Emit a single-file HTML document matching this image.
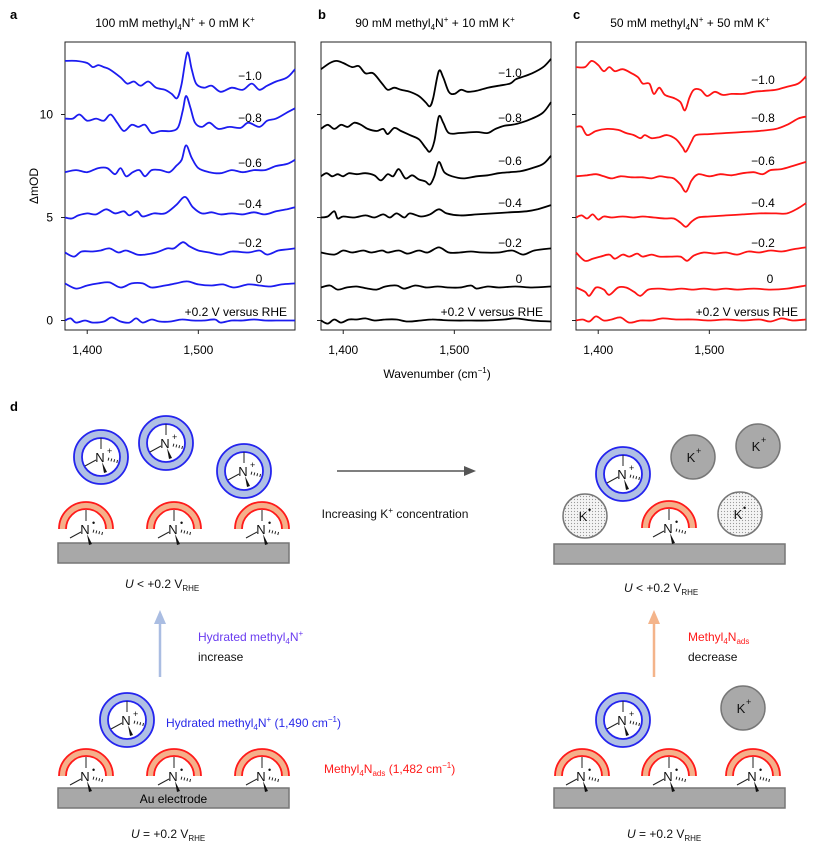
<!DOCTYPE html>
<html><head><meta charset="utf-8"><style>
body{margin:0;background:#fff}
svg{display:block;font-family:"Liberation Sans",Arial,sans-serif}
</style></head><body>
<svg id="fig" width="814" height="849" viewBox="0 0 814 849" xmlns="http://www.w3.org/2000/svg">
<g id="charts"></g>
<g id="diagram"></g>
</svg>
<script>
const NS="http://www.w3.org/2000/svg";
const potentials=["-1.0","-0.8","-0.6","-0.4","-0.2","0","+0.2"];
const xTicks=[1400,1500];
const yTicks=[0,5,10];
const panelA=[
[[1380,12.6],[1390,12.6],[1400,12.5],[1405,12.3],[1410,12.4],[1415,12.3],[1420,12.2],[1430,11.8],[1436,11.5],[1442,11.6],[1448,11.4],[1455,11.6],[1462,11.3],[1470,11.2],[1476,11.0],[1481,10.8],[1485,11.5],[1490,13.0],[1494,12.2],[1498,11.5],[1505,11.3],[1512,11.4],[1520,11.1],[1530,11.3],[1540,11.2],[1548,11.5],[1555,11.2],[1562,11.4],[1570,11.6],[1580,11.8],[1587,12.2]],
[[1380,9.8],[1387,9.8],[1393,10.0],[1400,9.7],[1408,9.8],[1415,9.7],[1421,10.0],[1427,9.6],[1433,9.2],[1440,9.5],[1446,9.4],[1452,9.5],[1458,9.1],[1466,9.2],[1476,9.2],[1482,9.4],[1486,10.2],[1489,10.9],[1493,10.3],[1497,9.6],[1503,9.4],[1510,9.6],[1518,9.3],[1528,9.4],[1538,9.35],[1545,9.6],[1555,9.4],[1562,9.7],[1570,9.8],[1580,10.1],[1587,10.3]],
[[1380,7.2],[1390,7.3],[1400,7.2],[1410,7.4],[1418,7.4],[1425,7.1],[1430,7.4],[1435,7.0],[1441,7.2],[1447,7.3],[1452,7.0],[1458,7.3],[1466,7.3],[1474,7.2],[1480,7.5],[1485,7.8],[1489,8.5],[1494,7.9],[1500,7.4],[1510,7.2],[1520,7.15],[1530,7.3],[1540,7.2],[1550,7.3],[1560,7.3],[1570,7.5],[1580,7.6],[1587,7.8]],
[[1380,5.0],[1386,4.95],[1392,5.1],[1400,5.2],[1408,5.15],[1417,5.4],[1425,5.2],[1433,5.3],[1438,5.1],[1445,5.3],[1450,5.05],[1460,5.2],[1470,5.2],[1480,5.6],[1488,6.0],[1495,5.5],[1503,5.2],[1512,5.25],[1520,5.15],[1530,5.2],[1540,5.15],[1550,5.25],[1560,5.15],[1570,5.3],[1580,5.4],[1587,5.5]],
[[1380,3.3],[1388,3.1],[1395,3.35],[1405,3.35],[1412,3.4],[1420,3.5],[1428,3.3],[1435,3.4],[1445,3.2],[1452,3.2],[1462,3.3],[1472,3.5],[1478,3.5],[1486,3.8],[1492,3.6],[1500,3.4],[1510,3.3],[1520,3.2],[1530,3.35],[1545,3.3],[1555,3.4],[1562,3.2],[1572,3.4],[1580,3.45],[1587,3.5]],
[[1380,1.8],[1390,1.55],[1400,1.7],[1410,1.8],[1420,1.85],[1430,1.6],[1440,1.8],[1450,1.8],[1458,1.6],[1470,1.7],[1480,1.8],[1490,1.9],[1500,1.75],[1512,1.7],[1522,1.75],[1532,1.6],[1545,1.75],[1555,1.7],[1565,1.65],[1575,1.75],[1587,1.8]],
[[1380,0],[1385,0.1],[1390,-0.1],[1398,0],[1405,-0.1],[1415,-0.05],[1422,0.15],[1430,-0.05],[1438,-0.1],[1444,0.1],[1450,-0.1],[1458,0.05],[1465,-0.05],[1475,-0.05],[1485,0.05],[1495,0],[1505,0],[1515,0.05],[1520,-0.1],[1530,0],[1540,0],[1550,0.05],[1560,0],[1570,0],[1587,0]]
];
const panelB=[
[[1380,12.2],[1388,12.5],[1394,12.6],[1400,12.5],[1408,12.3],[1414,12.35],[1420,12.0],[1427,12.0],[1435,11.5],[1440,11.2],[1446,11.3],[1452,11.2],[1460,11.1],[1468,10.9],[1474,10.6],[1478,10.4],[1481,10.8],[1486,12.1],[1490,11.8],[1495,11.1],[1500,11.0],[1506,11.2],[1512,11.1],[1520,11.15],[1530,11.3],[1540,11.4],[1550,11.5],[1555,11.7],[1560,11.8],[1570,12.0],[1580,12.3],[1587,12.7]],
[[1380,9.3],[1386,9.5],[1392,9.3],[1398,9.5],[1404,9.4],[1410,9.6],[1416,9.5],[1422,9.3],[1430,9.2],[1436,9.3],[1440,9.05],[1446,9.35],[1452,9.2],[1460,9.0],[1468,8.8],[1474,8.4],[1478,8.2],[1482,8.7],[1486,9.9],[1490,9.6],[1495,9.1],[1505,9.1],[1520,9.15],[1530,9.1],[1537,9.3],[1545,9.45],[1552,9.5],[1560,9.6],[1570,9.8],[1580,10.1],[1587,10.6]],
[[1380,7.0],[1385,7.15],[1390,7.0],[1395,7.1],[1400,7.0],[1405,7.15],[1412,7.1],[1420,7.15],[1428,7.05],[1434,6.8],[1440,7.1],[1445,7.0],[1450,7.35],[1456,6.9],[1462,7.05],[1468,6.85],[1474,6.75],[1478,6.6],[1482,7.0],[1486,7.7],[1491,7.2],[1498,7.0],[1508,6.9],[1520,7.0],[1530,7.05],[1540,7.15],[1550,7.2],[1560,7.25],[1570,7.4],[1580,7.6],[1587,8.0]],
[[1380,5.0],[1386,5.05],[1392,5.3],[1395,4.95],[1400,5.05],[1410,5.0],[1420,5.1],[1428,5.0],[1436,5.15],[1442,5.0],[1448,5.2],[1455,5.0],[1460,5.2],[1470,5.05],[1478,5.15],[1486,5.4],[1493,5.2],[1505,5.1],[1520,5.15],[1535,5.2],[1550,5.25],[1565,5.3],[1575,5.4],[1587,5.6]],
[[1380,3.3],[1392,3.2],[1400,3.4],[1408,3.3],[1418,3.4],[1425,3.3],[1435,3.4],[1440,3.3],[1450,3.4],[1458,3.25],[1468,3.4],[1476,3.3],[1486,3.55],[1495,3.3],[1505,3.3],[1515,3.35],[1525,3.3],[1540,3.3],[1552,3.4],[1562,3.2],[1572,3.4],[1587,3.5]],
[[1380,1.6],[1388,1.7],[1395,1.5],[1403,1.6],[1412,1.65],[1422,1.55],[1430,1.5],[1438,1.65],[1448,1.7],[1455,1.55],[1465,1.7],[1475,1.6],[1485,1.65],[1495,1.6],[1505,1.6],[1515,1.7],[1520,1.55],[1530,1.65],[1540,1.6],[1555,1.65],[1570,1.6],[1587,1.65]],
[[1380,0],[1386,-0.15],[1392,0.05],[1398,-0.1],[1405,0.05],[1412,0.05],[1420,0.1],[1428,0],[1438,0.05],[1448,0.05],[1458,-0.05],[1470,0],[1480,0.05],[1490,0.02],[1500,0],[1515,0],[1530,0],[1545,0.05],[1555,0.1],[1570,0],[1587,-0.05]]
];
const panelC=[
[[1380,12.3],[1388,12.3],[1394,12.6],[1400,12.4],[1405,12.1],[1410,12.3],[1415,12.1],[1422,12.2],[1430,12.0],[1436,11.8],[1440,11.5],[1446,11.5],[1450,11.0],[1455,11.3],[1460,10.95],[1468,10.8],[1474,10.6],[1478,10.2],[1482,10.8],[1486,11.2],[1492,11.2],[1498,10.9],[1505,11.1],[1512,10.95],[1520,11.0],[1530,11.0],[1540,11.1],[1550,11.15],[1560,11.2],[1570,11.35],[1580,11.5],[1587,11.85]],
[[1380,9.4],[1385,9.4],[1390,9.0],[1398,9.2],[1408,9.3],[1418,9.25],[1425,9.1],[1432,9.0],[1438,8.85],[1442,9.0],[1448,8.85],[1455,8.9],[1462,9.0],[1470,8.8],[1476,8.4],[1479,8.2],[1484,8.7],[1488,9.0],[1500,9.05],[1515,9.1],[1530,9.15],[1545,9.2],[1560,9.3],[1570,9.5],[1580,9.8],[1587,9.9]],
[[1380,7.0],[1390,7.05],[1398,7.1],[1405,7.0],[1412,6.9],[1420,7.0],[1430,6.95],[1440,6.95],[1448,6.9],[1455,7.0],[1462,6.95],[1468,6.9],[1474,6.6],[1479,6.25],[1484,6.8],[1490,7.1],[1500,7.0],[1510,7.1],[1520,7.05],[1530,7.15],[1540,7.2],[1548,7.1],[1555,7.3],[1565,7.35],[1575,7.5],[1587,7.7]],
[[1380,5.0],[1385,5.1],[1390,4.95],[1395,5.15],[1400,4.9],[1405,5.05],[1412,5.0],[1422,5.05],[1432,5.0],[1440,5.05],[1450,5.0],[1460,4.95],[1468,4.95],[1474,4.75],[1479,4.55],[1484,4.8],[1490,5.0],[1500,5.05],[1515,5.1],[1530,5.15],[1545,5.2],[1560,5.2],[1570,5.2],[1580,5.45],[1587,5.7]],
[[1380,3.3],[1388,2.9],[1395,3.0],[1402,3.1],[1410,3.2],[1415,3.0],[1422,3.2],[1428,3.1],[1435,3.25],[1440,3.1],[1448,3.2],[1455,3.1],[1465,3.1],[1474,3.1],[1480,2.9],[1486,3.15],[1495,3.3],[1505,3.25],[1515,3.3],[1525,3.2],[1535,3.35],[1545,3.3],[1555,3.4],[1565,3.35],[1575,3.45],[1587,3.55]],
[[1380,1.6],[1388,1.4],[1392,1.2],[1398,1.6],[1405,1.5],[1410,1.25],[1418,1.6],[1425,1.6],[1432,1.4],[1438,1.2],[1445,1.5],[1455,1.55],[1465,1.5],[1475,1.55],[1485,1.5],[1495,1.55],[1505,1.5],[1515,1.55],[1525,1.5],[1540,1.55],[1555,1.5],[1570,1.55],[1587,1.7]],
[[1380,0],[1386,0.05],[1392,-0.05],[1398,0.2],[1405,0],[1412,0.05],[1420,0.15],[1428,-0.1],[1438,0],[1448,0],[1458,0.1],[1470,0.05],[1485,0.05],[1500,0],[1515,0.05],[1530,0],[1545,0.05],[1555,-0.05],[1565,0.1],[1575,0],[1587,0.05]]
];

function el(tag,attrs,parent,text){const e=document.createElementNS(NS,tag);for(const k in attrs)e.setAttribute(k,attrs[k]);if(text!==undefined)e.textContent=text;parent.appendChild(e);return e;}
function smooth(pts){let d="M"+pts[0][0].toFixed(1)+","+pts[0][1].toFixed(1);
 for(let i=0;i<pts.length-1;i++){const p0=pts[Math.max(i-1,0)],p1=pts[i],p2=pts[i+1],p3=pts[Math.min(i+2,pts.length-1)];
  const c1x=p1[0]+(p2[0]-p0[0])/6,c1y=p1[1]+(p2[1]-p0[1])/6,c2x=p2[0]-(p3[0]-p1[0])/6,c2y=p2[1]-(p3[1]-p1[1])/6;
  d+=` C${c1x.toFixed(1)},${c1y.toFixed(1)} ${c2x.toFixed(1)},${c2y.toFixed(1)} ${p2[0].toFixed(1)},${p2[1].toFixed(1)}`;}
 return d;}

const charts=document.getElementById('charts');
const TOP=42,BOT=330,W=230;
const yS=v=>320.5-v*20.6;
const panels=[
 {id:"a",left:65,color:"#1c1cf0",data:panelA,title:"100 mM methyl",tail:" + 0 mM K",lx:[250,250,250,250,250,259],tx:175,yl:true},
 {id:"b",left:321,color:"#000",data:panelB,title:"90 mM methyl",tail:" + 10 mM K",lx:[510,510,510,510,510,519],tx:435},
 {id:"c",left:576,color:"#ff1414",data:panelC,title:"50 mM methyl",tail:" + 50 mM K",lx:[763,763,763,763,763,770],tx:690}
];
const labelY=[[80,122,167,208,247,283],[77,122,165,207,247,283],[84,122,165,207,247,283]];
panels.forEach((p,pi)=>{
 const g=el('g',{},charts);
 
 
 const xS=w=>p.left+(w-1380)*(W/207);
 const lt=el('text',{x:pi==0?10:p.left-3,y:19,'font-size':13,'font-weight':'bold'},g,p.id);
 
 
 const t=el('text',{x:p.tx,y:27,'font-size':12,'text-anchor':'middle'},g);
 
 
 t.innerHTML=p.title+'<tspan font-size="8" dy="3">4</tspan><tspan dy="-3">N</tspan><tspan font-size="8" dy="-5">+</tspan><tspan dy="5">'+p.tail+'</tspan><tspan font-size="8" dy="-5">+</tspan>';
 const fr=el('rect',{x:p.left,y:TOP,width:W,height:BOT-TOP,fill:'none',stroke:'#222','stroke-width':1},g);
 
 
 xTicks.forEach(v=>{
  const tk=el('line',{x1:xS(v),x2:xS(v),y1:BOT,y2:BOT+4,stroke:'#222'},g);
  
  
  const tl=el('text',{x:xS(v),y:BOT+24,'font-size':12,'text-anchor':'middle'},g,v.toLocaleString('en-US'));
  
  
 });
 yTicks.forEach(v=>{
  const tk=el('line',{x1:p.left-4,x2:p.left,y1:yS(v),y2:yS(v),stroke:'#222'},g);
  
  
  if(p.yl){const tl=el('text',{x:p.left-12,y:yS(v)+4,'font-size':12,'text-anchor':'end'},g,String(v));
  
  }
 });
 p.data.forEach((s,si)=>{
  const pts=s.map(q=>[xS(q[0]),yS(q[1])]);
  const path=el('path',{d:smooth(pts),fill:'none',stroke:p.color,'stroke-width':1.8,'stroke-linejoin':'round'},g);
  
  
  let lab;
  if(si<6){lab=el('text',{x:p.lx[si],y:labelY[pi][si],'font-size':12,'text-anchor':'middle'},g,potentials[si].replace('-','\u2212'));}
  else{lab=el('text',{x:p.left+W-8,y:316,'font-size':12,'text-anchor':'end'},g,'+0.2 V versus RHE');}
  
  
 });
});
const yt=el('text',{x:38,y:186,'font-size':12,'text-anchor':'middle',transform:'rotate(-90 38 186)'},charts,'\u0394mOD');


const xt=el('text',{x:437,y:378,'font-size':12,'text-anchor':'middle'},charts);


xt.innerHTML='Wavenumber (cm<tspan font-size="8" dy="-5">\u22121</tspan><tspan dy="5">)</tspan>';

/* panel d */
const D=document.getElementById('diagram');
function mol(cx,cy,name,sup){
 const g=el('g',{},D);
 
 
 el('line',{x1:cx,y1:cy-8,x2:cx,y2:cy-19,stroke:'#222','stroke-width':1},g);
 el('line',{x1:cx-5,y1:cy+3,x2:cx-16,y2:cy+9,stroke:'#222','stroke-width':1},g);
 el('polygon',{points:`${cx+1},${cy+5} ${cx+6},${cy+15} ${cx+3},${cy+16}`,fill:'#111'},g);
 el('line',{x1:cx+7,y1:cy+2,x2:cx+18,y2:cy+5,stroke:'#222','stroke-width':3,'stroke-dasharray':'1 2'},g);
 el('text',{x:cx-1,y:cy+5,'font-size':13,'text-anchor':'middle',fill:'#111'},g,'N');
 el('text',{x:cx+6,y:cy-3,'font-size':9,fill:'#111'},g,sup);
}
function hydrated(cx,cy,name){
 const c=el('circle',{cx:cx,cy:cy,r:23,fill:'none',stroke:'#b0c0e4','stroke-width':8},D);
 
 
 el('circle',{cx:cx,cy:cy,r:27,fill:'none',stroke:'#2424ee','stroke-width':1.8},D);
 el('circle',{cx:cx,cy:cy,r:19,fill:'#fff',stroke:'#2424ee','stroke-width':1.8},D);
 mol(cx,cy,name,'+');
}
function adsorbed(cx,by,name){
 const p=el('path',{d:`M${cx-27},${by} A27,27 0 0 1 ${cx+27},${by} L${cx+20},${by} A20,20 0 0 0 ${cx-20},${by} Z`,fill:'#f5b08a',stroke:'none'},D);
 
 
 el('path',{d:`M${cx-27},${by} A27,27 0 0 1 ${cx+27},${by}`,fill:'none',stroke:'#ff1a1a','stroke-width':1.8},D);
 el('path',{d:`M${cx-20},${by} A20,20 0 0 1 ${cx+20},${by}`,fill:'none',stroke:'#ff1a1a','stroke-width':1.8},D);
 mol(cx,by,name,'\u2022');
}
function kion(cx,cy,dotted,name){
 const c=el('circle',{cx:cx,cy:cy,r:22,fill:dotted?'url(#dots)':'#a9a9a9',stroke:'#777','stroke-width':1.5},D);
 
 
 el('text',{x:cx-2,y:cy+5,'font-size':13,'text-anchor':'middle',fill:'#111'},D,'K');
 el('text',{x:cx+3,y:cy-3,'font-size':9,fill:'#111'},D,dotted?'\u2022':'+');
}
function bar(x,y,w,name,label){
 const r=el('rect',{x:x,y:y,width:w,height:20,fill:'#a8a8a8',stroke:'#777','stroke-width':1.5},D);
 
 
 if(label)el('text',{x:x+w/2,y:y+15,'font-size':12,'text-anchor':'middle'},D,label);
}
function txt(x,y,html,fill,name,anchor){
 const t=el('text',{x:x,y:y,'font-size':12,fill:fill||'#111','text-anchor':anchor||'start'},D);
 t.innerHTML=html;
 
 
}
const defs=el('defs',{},D);
const pat=el('pattern',{id:'dots',width:3,height:3,patternUnits:'userSpaceOnUse'},defs);
el('rect',{width:3,height:3,fill:'#f4f4f4'},pat);
el('circle',{cx:1.5,cy:1.5,r:0.6,fill:'#999'},pat);
el('text',{x:10,y:411,'font-size':13,'font-weight':'bold'},D,'d');

const Usub='<tspan font-size="8" dy="3">RHE</tspan>';
bar(58,543,231,'electrode-top-left');
adsorbed(86,529,'adsorbed-cation');adsorbed(174,529,'adsorbed-cation');adsorbed(262,529,'adsorbed-cation');
hydrated(101,457,'hydrated-cation');hydrated(166,443,'hydrated-cation');hydrated(244,471,'hydrated-cation');
txt(125,588,'<tspan font-style="italic">U</tspan> &lt; +0.2 V'+Usub,'#111','potential-top-left');
el('line',{x1:337,y1:471,x2:466,y2:471,stroke:'#555','stroke-width':1.5},D);
el('polygon',{points:'476,471 464,466 464,476',fill:'#555'},D);
txt(395,518,'Increasing K<tspan font-size="8" dy="-5">+</tspan><tspan dy="5"> concentration</tspan>','#111','arrow-label','middle');
bar(554,544,231,'electrode-top-right');
adsorbed(669,528,'adsorbed-cation');
hydrated(623,474,'hydrated-cation');
kion(693,457,false,'k-ion');kion(758,446,false,'k-ion');
kion(585,516,true,'k-ion-dotted');kion(740,514,true,'k-ion-dotted');
txt(624,592,'<tspan font-style="italic">U</tspan> &lt; +0.2 V'+Usub,'#111','potential-top-right');
el('line',{x1:160,y1:677,x2:160,y2:622,stroke:'#aabde2','stroke-width':2.5},D);
el('polygon',{points:'160,610 154,624 166,624',fill:'#aabde2'},D);
txt(198,641,'Hydrated methyl<tspan font-size="8" dy="3">4</tspan><tspan dy="-3">N</tspan><tspan font-size="8" dy="-5">+</tspan>','#6a3cf0','label-hydrated-increase');
txt(198,661,'increase','#111','label-increase');
bar(58,788,231,'au-electrode','Au electrode');
adsorbed(86,776,'adsorbed-cation');adsorbed(174,776,'adsorbed-cation');adsorbed(262,776,'adsorbed-cation');
hydrated(127,720,'hydrated-cation');
txt(166,727,'Hydrated methyl<tspan font-size="8" dy="3">4</tspan><tspan dy="-3">N</tspan><tspan font-size="8" dy="-5">+</tspan><tspan dy="5"> (1,490 cm</tspan><tspan font-size="8" dy="-5">\u22121</tspan><tspan dy="5">)</tspan>','#2a2ae8','label-hydrated-1490');
txt(324,773,'Methyl<tspan font-size="8" dy="3">4</tspan><tspan dy="-3">N</tspan><tspan font-size="8" dy="3">ads</tspan><tspan dy="-3"> (1,482 cm</tspan><tspan font-size="8" dy="-5">\u22121</tspan><tspan dy="5">)</tspan>','#ff1a1a','label-ads-1482');
txt(131,838,'<tspan font-style="italic">U</tspan> = +0.2 V'+Usub,'#111','potential-bottom-left');
el('line',{x1:654,y1:677,x2:654,y2:622,stroke:'#f4b48a','stroke-width':2.5},D);
el('polygon',{points:'654,610 648,624 660,624',fill:'#f4b48a'},D);
txt(688,641,'Methyl<tspan font-size="8" dy="3">4</tspan><tspan dy="-3">N</tspan><tspan font-size="8" dy="3">ads</tspan>','#ff1a1a','label-ads-decrease');
txt(688,661,'decrease','#111','label-decrease');
bar(554,788,231,'electrode-bottom-right');
adsorbed(582,776,'adsorbed-cation');adsorbed(669,776,'adsorbed-cation');adsorbed(753,776,'adsorbed-cation');
hydrated(623,720,'hydrated-cation');
kion(743,708,false,'k-ion');
txt(627,838,'<tspan font-style="italic">U</tspan> = +0.2 V'+Usub,'#111','potential-bottom-right');
</script>
</body></html>
